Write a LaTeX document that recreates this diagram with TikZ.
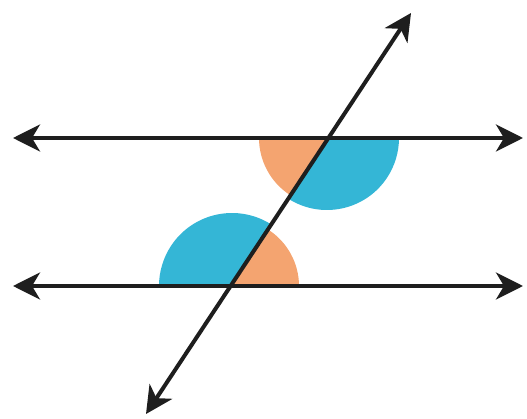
\documentclass[tikz,border=0pt]{standalone}
\usetikzlibrary{arrows.meta}
\definecolor{angorange}{RGB}{244,164,112}
\definecolor{angblue}{RGB}{52,182,214}
\begin{document}
\begin{tikzpicture}[x=1pt,y=1pt,
  lineart/.style={line width=4pt,draw={rgb,255:red,30;green,30;blue,30},
    {Stealth[length=27pt,width=27pt,inset=8pt]}-{Stealth[length=27pt,width=27pt,inset=8pt]}}]
\useasboundingbox (0,0) rectangle (527,418);
\coordinate (P) at (327,280);
\coordinate (Q) at (232,132);
\coordinate (TL) at (13,280);
\coordinate (TR) at (523,280);
\coordinate (BL) at (13,132);
\coordinate (BR) at (523,132);
\coordinate (S1) at (146,4);
\coordinate (S2) at (411,405);
% sectors at top intersection
\fill[angorange] (P) -- ++(180:68) arc[start angle=180,end angle=236.7,radius=68] -- cycle;
\fill[angblue] (P) -- ++(236.7:72) arc[start angle=236.7,end angle=360,radius=72] -- cycle;
% sectors at bottom intersection
\fill[angorange] (Q) -- ++(0:67) arc[start angle=0,end angle=56.7,radius=67] -- cycle;
\fill[angblue] (Q) -- ++(56.7:73) arc[start angle=56.7,end angle=180,radius=73] -- cycle;
% lines
\draw[lineart] (TL) -- (TR);
\draw[lineart] (BL) -- (BR);
\draw[lineart] (S1) -- (S2);
\end{tikzpicture}
\end{document}
